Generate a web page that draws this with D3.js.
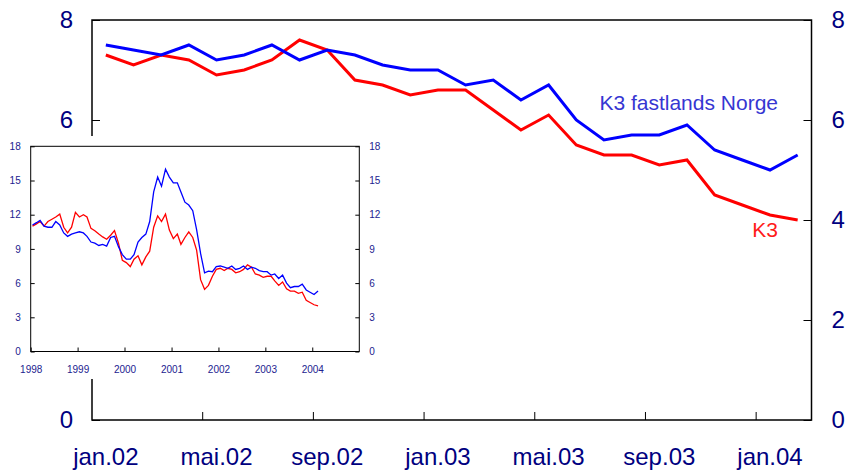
<!DOCTYPE html>
<html>
<head>
<meta charset="utf-8">
<style>
  body { margin: 0; background: #fff; }
  svg text { font-family: "Liberation Sans", Arial, sans-serif; }
  .main-axis text { font-size: 24px; fill: #000080; }
  .inset-axis text { font-size: 10px; fill: #22228f; }
  .main-axis line, .inset-axis line { stroke: #000; }
</style>
<title>K3</title>
</head>
<body>
<script src="https://cdn.jsdelivr.net/npm/d3@7"></script>
<script>

// Main chart: monthly, jan.02 - feb.04
var months = ["jan.02","feb.02","mar.02","apr.02","mai.02","jun.02","jul.02","aug.02","sep.02","okt.02","nov.02","des.02",
              "jan.03","feb.03","mar.03","apr.03","mai.03","jun.03","jul.03","aug.03","sep.03","okt.03","nov.03","des.03",
              "jan.04","feb.04"];
var labelMonths = ["jan.02","mai.02","sep.02","jan.03","mai.03","sep.03","jan.04"];

var k3Fastland = [7.5, 7.4, 7.3, 7.5, 7.2, 7.3, 7.5, 7.2, 7.4, 7.3, 7.1, 7.0,
                  7.0, 6.7, 6.8, 6.4, 6.7, 6.0, 5.6, 5.7, 5.7, 5.9, 5.4, 5.2,
                  5.0, 5.3];
var k3 = [7.3, 7.1, 7.3, 7.2, 6.9, 7.0, 7.2, 7.6, 7.4, 6.8, 6.7, 6.5,
          6.6, 6.6, 6.2, 5.8, 6.1, 5.5, 5.3, 5.3, 5.1, 5.2, 4.5, 4.3,
          4.1, 4.0];
var mainTicks = [0, 2, 4, 6, 8];

// Inset: monthly jan 1998 - des 2001, continues with the series above
var k3Fastland9801 = [11.1, 11.3, 11.5, 11.0, 10.9, 10.9, 11.4, 11.1, 10.4, 10.1, 10.3, 10.4,
                      10.5, 10.4, 10.1, 9.6, 9.5, 9.3, 9.4, 9.25, 10.0, 10.1, 9.2, 8.5,
                      8.1, 8.1, 8.5, 9.6, 10.0, 10.3, 11.4, 14.0, 15.3, 14.5, 16.0, 15.3,
                      14.8, 14.8, 14.0, 13.1, 12.85, 12.35, 10.7, 8.6, 6.9, 7.05, 7.0, 7.45];
var k39801 = [11.0, 11.2, 11.4, 11.0, 11.4, 11.6, 11.8, 12.05, 10.9, 10.4, 10.9, 12.2,
              11.8, 12.0, 11.8, 10.8, 10.6, 10.3, 10.05, 9.85, 10.2, 10.6, 9.5, 8.0,
              7.8, 7.45, 8.1, 8.4, 7.6, 8.3, 8.8, 10.9, 11.9, 11.4, 12.05, 10.65,
              9.9, 10.3, 9.4, 10.0, 10.5, 10.0, 8.9, 6.3, 5.45, 5.8, 6.6, 7.2];
var insetTicks = [0, 3, 6, 9, 12, 15, 18];
var insetYears = [1998, 1999, 2000, 2001, 2002, 2003, 2004];

var W = 847, H = 470;
var svg = d3.select("body").append("svg")
    .attr("width", W)
    .attr("height", H);

// ---- main chart
var x = d3.scaleBand().domain(months).range([92, 811.5]).padding(0);
var y = d3.scaleLinear().domain([0, 8]).range([420, 20]);
var xc = d => x(d) + x.bandwidth() / 2;

svg.append("g").attr("class", "main-axis")
    .attr("transform", "translate(92,0)")
    .call(d3.axisLeft(y).tickValues(mainTicks).tickFormat(d3.format("d"))
        .tickSizeInner(-8).tickSizeOuter(0).tickPadding(19))
    .call(g => g.select(".domain").remove());

svg.append("g").attr("class", "main-axis")
    .attr("transform", "translate(811.5,0)")
    .call(d3.axisRight(y).tickValues(mainTicks).tickFormat(d3.format("d"))
        .tickSizeInner(-8).tickSizeOuter(0).tickPadding(20))
    .call(g => g.select(".domain").remove());

svg.append("g").attr("class", "main-axis")
    .attr("transform", "translate(0,420)")
    .call(d3.axisBottom(x).tickValues(labelMonths).tickSize(0).tickPadding(28))
    .call(g => g.select(".domain").remove());

// x ticks sit on the month boundaries
svg.append("g").selectAll("line")
    .data(labelMonths.slice(1))
    .join("line")
      .attr("x1", d => x(d)).attr("x2", d => x(d))
      .attr("y1", 420).attr("y2", 412)
      .attr("stroke", "#000");

svg.append("rect")
    .attr("x", 92).attr("y", 20)
    .attr("width", 811.5 - 92).attr("height", 400)
    .attr("fill", "none").attr("stroke", "#000").attr("stroke-width", 1.5);

var line = d3.line().x((d, i) => xc(months[i])).y(d => y(d));

svg.append("path").datum(k3)
    .attr("d", line).attr("fill", "none")
    .attr("stroke", "#ff0000").attr("stroke-width", 3);
svg.append("path").datum(k3Fastland)
    .attr("d", line).attr("fill", "none")
    .attr("stroke", "#0000ff").attr("stroke-width", 3);

svg.append("text")
    .attr("x", 778).attr("y", 110)
    .attr("text-anchor", "end")
    .attr("font-size", 21)
    .attr("fill", "#3636d2")
    .text("K3 fastlands Norge");
svg.append("text")
    .attr("x", 778).attr("y", 237)
    .attr("text-anchor", "end")
    .attr("font-size", 21)
    .attr("fill", "#ff1a1a")
    .text("K3");

// ---- inset
var inset = svg.append("g");
inset.append("rect")
    .attr("x", 0).attr("y", 136)
    .attr("width", 386).attr("height", 243)
    .attr("fill", "#fff");

var tx = d3.scaleTime()
    .domain([new Date(1998, 0, 1), new Date(2005, 0, 1)])
    .range([30.7, 359.3]);
var ty = d3.scaleLinear().domain([0, 18]).range([351.5, 146.3]);

var blueAll = k3Fastland9801.concat(k3Fastland);
var redAll = k39801.concat(k3);
var mDate = i => new Date(1998, i, 15);

inset.append("g").attr("class", "inset-axis")
    .attr("transform", "translate(30.7,0)")
    .call(d3.axisLeft(ty).tickValues(insetTicks).tickSizeInner(-4).tickSizeOuter(0).tickPadding(10))
    .call(g => g.select(".domain").remove());
inset.append("g").attr("class", "inset-axis")
    .attr("transform", "translate(359.3,0)")
    .call(d3.axisRight(ty).tickValues(insetTicks).tickSizeInner(-4).tickSizeOuter(0).tickPadding(10))
    .call(g => g.select(".domain").remove());
inset.append("g").attr("class", "inset-axis")
    .attr("transform", "translate(0,351.5)")
    .call(d3.axisBottom(tx).tickValues(insetYears.map(yr => new Date(yr, 0, 1)))
        .tickFormat(d3.timeFormat("%Y")).tickSizeInner(-4).tickSizeOuter(0).tickPadding(14))
    .call(g => g.select(".domain").remove());

inset.append("rect")
    .attr("x", 30.7).attr("y", 146.3)
    .attr("width", 359.3 - 30.7).attr("height", 351.5 - 146.3)
    .attr("fill", "none").attr("stroke", "#000").attr("stroke-width", 1);

var iline = d3.line().x((d, i) => tx(mDate(i))).y(d => ty(d));
inset.append("path").datum(redAll)
    .attr("d", iline).attr("fill", "none")
    .attr("stroke", "#ff0000").attr("stroke-width", 1.3);
inset.append("path").datum(blueAll)
    .attr("d", iline).attr("fill", "none")
    .attr("stroke", "#0000ff").attr("stroke-width", 1.3);

</script>
</body>
</html>
